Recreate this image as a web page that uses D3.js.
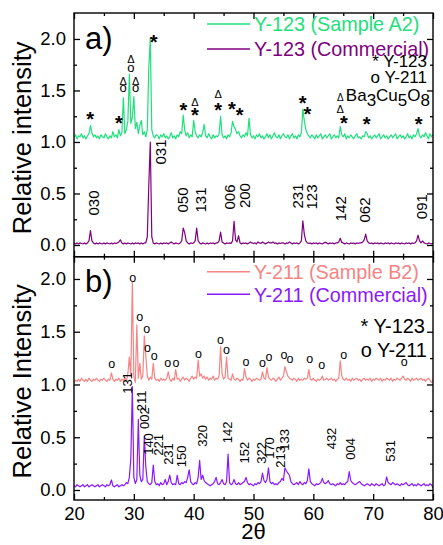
<!DOCTYPE html>
<html>
<head>
<meta charset="utf-8">
<script src="https://cdn.jsdelivr.net/npm/d3@7"></script>
<style>
  body { margin: 0; background: #fff; }
  svg { display: block; }
  text { font-family: "Liberation Sans", Arial, Helvetica, sans-serif; fill: #000; }
</style>
</head>
<body>
<svg id="chart" width="443" height="545"></svg>
<script>
// ---- scan grid (2θ from 20° to 80°, 0.25° step) ----
const scanStart = 20;
const scanStep = 0.25;

// ---- panel a: Y-123, one row per degree (4 points each) ----
const y123SampleA2 = [
  1.04,1.07,1.03,1.06, // 20
  1.05,1.08,1.04,1.06, // 21
  1.03,1.06,1.08,1.16, // 22
  1.09,1.05,1.07,1.04, // 23
  1.06,1.03,1.07,1.05, // 24
  1.04,1.08,1.05,1.03, // 25
  1.06,1.04,1.10,1.05, // 26
  1.07,1.04,1.12,1.06, // 27
  1.09,1.43,1.08,1.12, // 28
  1.20,1.66,1.18,1.24, // 29
  1.44,1.13,1.19,1.08, // 30
  1.16,1.21,1.07,1.10, // 31
  1.05,1.12,1.72,2.00, // 32
  1.12,1.06,1.04,1.07, // 33
  1.06,1.03,1.07,1.05, // 34
  1.08,1.04,1.06,1.03, // 35
  1.05,1.09,1.04,1.06, // 36
  1.03,1.07,1.05,1.10, // 37
  1.08,1.26,1.12,1.06, // 38
  1.09,1.04,1.07,1.05, // 39
  1.21,1.10,1.06,1.04, // 40
  1.07,1.05,1.09,1.17, // 41
  1.06,1.04,1.08,1.05, // 42
  1.03,1.07,1.04,1.06, // 43
  1.05,1.08,1.25,1.07, // 44
  1.04,1.06,1.03,1.07, // 45
  1.05,1.09,1.20,1.15, // 46
  1.12,1.08,1.10,1.06, // 47
  1.04,1.07,1.05,1.09, // 48
  1.06,1.23,1.07,1.04, // 49
  1.06,1.03,1.07,1.05, // 50
  1.08,1.04,1.06,1.03, // 51
  1.05,1.08,1.04,1.07, // 52
  1.03,1.06,1.09,1.05, // 53
  1.04,1.07,1.03,1.06, // 54
  1.08,1.05,1.04,1.07, // 55
  1.03,1.06,1.08,1.04, // 56
  1.06,1.03,1.07,1.05, // 57
  1.09,1.32,1.20,1.12, // 58
  1.08,1.06,1.04,1.07, // 59
  1.05,1.03,1.07,1.04, // 60
  1.06,1.08,1.03,1.05, // 61
  1.07,1.04,1.06,1.08, // 62
  1.03,1.05,1.07,1.04, // 63
  1.06,1.04,1.15,1.07, // 64
  1.05,1.08,1.03,1.06, // 65
  1.04,1.07,1.05,1.03, // 66
  1.06,1.08,1.04,1.05, // 67
  1.03,1.06,1.05,1.10, // 68
  1.08,1.04,1.06,1.03, // 69
  1.05,1.07,1.04,1.06, // 70
  1.08,1.03,1.05,1.07, // 71
  1.04,1.06,1.03,1.05, // 72
  1.07,1.04,1.06,1.08, // 73
  1.03,1.05,1.07,1.04, // 74
  1.06,1.03,1.05,1.08, // 75
  1.04,1.06,1.03,1.07, // 76
  1.05,1.08,1.13,1.06, // 77
  1.04,1.07,1.05,1.09, // 78
  1.06,1.03,1.08,1.05, // 79
  1.07
];

const y123Commercial = [
  0.02,0.01,0.02,0.01,   // 20
  0.02,0.015,0.01,0.02,  // 21
  0.01,0.02,0.04,0.14,   // 22
  0.04,0.02,0.01,0.02,   // 23
  0.01,0.02,0.015,0.01,  // 24
  0.02,0.01,0.02,0.015,  // 25
  0.01,0.02,0.01,0.02,   // 26
  0.015,0.02,0.03,0.05,  // 27
  0.02,0.01,0.02,0.01,   // 28
  0.02,0.015,0.01,0.02,  // 29
  0.01,0.02,0.015,0.02,  // 30
  0.01,0.02,0.01,0.02,   // 31
  0.02,0.08,0.58,1.00,   // 32
  0.08,0.02,0.01,0.02,   // 33
  0.015,0.01,0.02,0.01,  // 34
  0.02,0.015,0.02,0.01,  // 35
  0.02,0.03,0.02,0.01,   // 36
  0.02,0.015,0.01,0.02,  // 37
  0.04,0.165,0.12,0.04,  // 38
  0.02,0.01,0.02,0.015,  // 39
  0.02,0.04,0.165,0.04,  // 40
  0.02,0.01,0.02,0.015,  // 41
  0.01,0.02,0.01,0.02,   // 42
  0.015,0.02,0.01,0.02,  // 43
  0.02,0.04,0.125,0.03,  // 44
  0.02,0.01,0.02,0.015,  // 45
  0.02,0.015,0.04,0.23,  // 46
  0.05,0.03,0.09,0.02,   // 47
  0.01,0.02,0.015,0.02,  // 48
  0.01,0.02,0.03,0.02,   // 49
  0.015,0.02,0.01,0.03,  // 50
  0.02,0.015,0.03,0.02,  // 51
  0.01,0.02,0.03,0.02,   // 52
  0.02,0.03,0.015,0.02,  // 53
  0.01,0.02,0.015,0.02,  // 54
  0.02,0.01,0.02,0.015,  // 55
  0.03,0.02,0.01,0.02,   // 56
  0.015,0.02,0.01,0.02,  // 57
  0.04,0.235,0.10,0.04,  // 58
  0.02,0.015,0.02,0.01,  // 59
  0.02,0.015,0.02,0.01,  // 60
  0.02,0.015,0.01,0.02,  // 61
  0.025,0.02,0.01,0.02,  // 62
  0.015,0.02,0.01,0.02,  // 63
  0.02,0.03,0.065,0.025, // 64
  0.02,0.01,0.02,0.015,  // 65
  0.01,0.02,0.015,0.02,  // 66
  0.01,0.02,0.015,0.02,  // 67
  0.02,0.03,0.05,0.105,  // 68
  0.04,0.02,0.015,0.02,  // 69
  0.01,0.02,0.015,0.02,  // 70
  0.01,0.02,0.015,0.01,  // 71
  0.02,0.015,0.02,0.01,  // 72
  0.02,0.015,0.01,0.02,  // 73
  0.015,0.02,0.01,0.02,  // 74
  0.015,0.01,0.02,0.015, // 75
  0.02,0.01,0.02,0.015,  // 76
  0.02,0.04,0.095,0.04,  // 77
  0.02,0.04,0.02,0.015,  // 78
  0.01,0.02,0.015,0.01,  // 79
  0.02
];

// ---- panel b: Y-211 ----
const y211SampleB2 = [
  1.02,1.04,1.03,1.05, // 20
  1.03,1.06,1.04,1.03, // 21
  1.05,1.03,1.06,1.04, // 22
  1.03,1.05,1.04,1.06, // 23
  1.04,1.03,1.05,1.04, // 24
  1.06,1.04,1.03,1.05, // 25
  1.04,1.11,1.05,1.03, // 26
  1.05,1.04,1.06,1.03, // 27
  1.05,1.04,1.06,1.03, // 28
  1.10,1.26,1.08,1.97, // 29
  1.08,1.02,1.565,1.06,// 30
  1.20,1.05,1.08,1.46, // 31
  1.27,1.08,1.04,1.07, // 32
  1.05,1.20,1.06,1.04, // 33
  1.05,1.03,1.06,1.04, // 34
  1.05,1.04,1.06,1.12, // 35
  1.05,1.03,1.06,1.04, // 36
  1.14,1.05,1.06,1.03, // 37
  1.05,1.07,1.04,1.06, // 38
  1.05,1.03,1.06,1.08, // 39
  1.05,1.07,1.06,1.23, // 40
  1.08,1.10,1.06,1.08, // 41
  1.05,1.07,1.04,1.06, // 42
  1.05,1.08,1.04,1.06, // 43
  1.05,1.08,1.36,1.10, // 44
  1.05,1.07,1.26,1.06, // 45
  1.05,1.04,1.10,1.05, // 46
  1.04,1.06,1.05,1.03, // 47
  1.05,1.04,1.15,1.07, // 48
  1.04,1.06,1.05,1.03, // 49
  1.05,1.04,1.06,1.05, // 50
  1.04,1.05,1.12,1.06, // 51
  1.05,1.16,1.07,1.05, // 52
  1.04,1.06,1.05,1.03, // 53
  1.05,1.07,1.04,1.06, // 54
  1.08,1.17,1.12,1.08, // 55
  1.06,1.05,1.04,1.06, // 56
  1.05,1.03,1.06,1.04, // 57
  1.05,1.04,1.06,1.05, // 58
  1.06,1.14,1.05,1.04, // 59
  1.06,1.04,1.03,1.05, // 60
  1.04,1.05,1.08,1.04, // 61
  1.05,1.06,1.04,1.05, // 62
  1.06,1.04,1.05,1.03, // 63
  1.05,1.06,1.225,1.08,// 64
  1.05,1.04,1.06,1.04, // 65
  1.05,1.03,1.06,1.04, // 66
  1.05,1.06,1.04,1.05, // 67
  1.03,1.05,1.06,1.04, // 68
  1.05,1.04,1.06,1.03, // 69
  1.05,1.04,1.06,1.05, // 70
  1.04,1.06,1.03,1.05, // 71
  1.04,1.06,1.05,1.04, // 72
  1.06,1.03,1.05,1.04, // 73
  1.06,1.05,1.04,1.06, // 74
  1.08,1.05,1.04,1.06, // 75
  1.05,1.03,1.06,1.04, // 76
  1.05,1.06,1.04,1.05, // 77
  1.06,1.04,1.05,1.03, // 78
  1.05,1.06,1.04,1.02, // 79
  1.04
];

const y211Commercial = [
  0.04,0.03,0.05,0.04,  // 20
  0.03,0.04,0.05,0.03,  // 21
  0.04,0.05,0.03,0.04,  // 22
  0.05,0.04,0.03,0.04,  // 23
  0.05,0.03,0.04,0.05,  // 24
  0.04,0.03,0.05,0.04,  // 25
  0.05,0.095,0.04,0.03, // 26
  0.04,0.05,0.03,0.04,  // 27
  0.05,0.04,0.05,0.07,  // 28
  0.06,0.12,0.30,0.98,  // 29
  0.12,0.06,0.10,0.67,  // 30
  0.14,0.08,0.10,0.51,  // 31
  0.22,0.08,0.06,0.05,  // 32
  0.07,0.237,0.08,0.05, // 33
  0.06,0.04,0.07,0.05,  // 34
  0.06,0.10,0.05,0.08,  // 35
  0.14,0.07,0.05,0.06,  // 36
  0.05,0.14,0.06,0.05,  // 37
  0.07,0.06,0.08,0.07,  // 38
  0.12,0.19,0.08,0.06,  // 39
  0.05,0.07,0.06,0.12,  // 40
  0.28,0.10,0.14,0.09,  // 41
  0.07,0.06,0.05,0.04,  // 42
  0.05,0.06,0.08,0.12,  // 43
  0.06,0.05,0.07,0.10,  // 44
  0.06,0.05,0.08,0.34,  // 45
  0.07,0.05,0.06,0.10,  // 46
  0.06,0.05,0.07,0.05,  // 47
  0.06,0.07,0.08,0.12,  // 48
  0.07,0.05,0.06,0.05,  // 49
  0.04,0.06,0.05,0.07,  // 50
  0.06,0.08,0.16,0.09,  // 51
  0.07,0.10,0.21,0.08,  // 52
  0.06,0.07,0.05,0.06,  // 53
  0.05,0.07,0.08,0.11,  // 54
  0.09,0.21,0.18,0.16,  // 55
  0.14,0.08,0.06,0.05,  // 56
  0.06,0.07,0.05,0.08,  // 57
  0.06,0.05,0.07,0.06,  // 58
  0.09,0.20,0.08,0.06,  // 59
  0.05,0.04,0.06,0.05,  // 60
  0.06,0.07,0.11,0.07,  // 61
  0.06,0.07,0.09,0.06,  // 62
  0.05,0.06,0.05,0.04,  // 63
  0.06,0.05,0.07,0.05,  // 64
  0.06,0.05,0.07,0.08,  // 65
  0.175,0.09,0.07,0.06, // 66
  0.05,0.06,0.07,0.08,  // 67
  0.06,0.05,0.04,0.05,  // 68
  0.06,0.05,0.04,0.06,  // 69
  0.05,0.04,0.06,0.05,  // 70
  0.04,0.05,0.06,0.04,  // 71
  0.05,0.125,0.07,0.06, // 72
  0.05,0.07,0.06,0.05,  // 73
  0.06,0.05,0.04,0.06,  // 74
  0.05,0.06,0.07,0.05,  // 75
  0.04,0.05,0.06,0.04,  // 76
  0.05,0.04,0.06,0.05,  // 77
  0.04,0.05,0.06,0.04,  // 78
  0.05,0.04,0.06,0.05,  // 79
  0.02
];

// ---- phase markers [2θ, intensity] ----
const topStars = [[22.7,1.262],[27.5,1.23],[33.3,2.017],[38.3,1.35],[40.2,1.30],[44.1,1.35],
  [46.4,1.36],[47.7,1.30],[58.2,1.417],[59.0,1.31],[65.1,1.23],[68.9,1.22],[77.6,1.22]];
const topCircles = [[28.2,1.515],[29.5,1.716],[30.3,1.515]];
const topDeltas = [[28.2,1.595],[29.5,1.805],[30.3,1.595],[40.2,1.39],[44.1,1.47],[64.5,1.315]];
const bottomCircles = [[26.3,1.191],[29.8,2.0],[31.0,1.637],[32.15,1.523],[32.3,1.343],[33.4,1.264],
  [35.65,1.20],[37.05,1.20],[40.8,1.286],[44.5,1.412],[45.5,1.318],[48.75,1.207],[51.5,1.20],
  [52.6,1.258],[55.1,1.273],[56.1,1.239],[59.4,1.239],[61.4,1.178],[65.1,1.27],[75.2,1.21]];

// ---- reflection indices [hkl, 2θ, label centre] ----
const topHkl = [["030",23.2,0.408],["031",34.55,0.903],["050",38.17,0.437],["131",41.18,0.437],
  ["006",46.07,0.466],["200",48.46,0.48],["231",57.32,0.476],["123",59.73,0.466],
  ["142",64.63,0.352],["062",68.64,0.34],["091",78.11,0.372]];
const bottomHkl = [["131",28.98,1.014],["211",31.2,0.844],["002",31.7,0.682],["140",32.42,0.436],
  ["221",34.09,0.427],["231",35.76,0.341],["150",38.0,0.318],["320",41.51,0.512],
  ["142",45.62,0.545],["152",48.41,0.355],["322",51.37,0.351],["170",52.64,0.398],
  ["213",54.55,0.313],["133",55.1,0.474],["432",63.07,0.488],["004",66.25,0.389],["531",72.93,0.37]];

// ---- axis ticks ----
const xMajor = [20, 30, 40, 50, 60, 70, 80];
const xMinor = [25, 35, 45, 55, 65, 75];
const yMajor = [0, 0.5, 1.0, 1.5, 2.0];
const yMinor = [0.25, 0.75, 1.25, 1.75];

// ---- colours ----
const cGreen = "#1ee07c", cPurple = "#800080", cPink = "#f78383", cViolet = "#8a18ff";

// ---- layout ----
const L = 74, R = 433, T = 13, MID = 256.7, B = 500;
const svg = d3.select("#chart");

const x = d3.scaleLinear().domain([20, 80]).range([L, R]);
const yTop = d3.scaleLinear().domain([-0.1136, 2.252]).range([MID, T]);
const yBot = d3.scaleLinear().domain([-0.0948, 2.211]).range([B, MID]);

const asPoints = arr => arr.map((v, i) => [scanStart + i * scanStep, v]);

svg.append("defs").append("clipPath").attr("id", "clipTop")
  .append("rect").attr("x", L).attr("y", T).attr("width", R - L).attr("height", MID - T);
svg.select("defs").append("clipPath").attr("id", "clipBot")
  .append("rect").attr("x", L).attr("y", MID).attr("width", R - L).attr("height", B - MID);

function trace(y, data, color, clip) {
  const line = d3.line().x(d => x(d[0])).y(d => y(d[1]));
  svg.append("path").datum(asPoints(data))
    .attr("clip-path", `url(#${clip})`)
    .attr("fill", "none").attr("stroke", color).attr("stroke-width", 1.2)
    .attr("stroke-linejoin", "round").attr("d", line);
}

trace(yTop, y123Commercial, cPurple, "clipTop");
trace(yTop, y123SampleA2, cGreen, "clipTop");
trace(yBot, y211SampleB2, cPink, "clipBot");
trace(yBot, y211Commercial, cViolet, "clipBot");

// ---- axes: ticks point inward on all four sides ----
function frame(y, top, bottom, showX) {
  const g = svg.append("g");
  const addAxis = (axis, tx, ty, vals, size, labels) => {
    const a = g.append("g").attr("transform", `translate(${tx},${ty})`)
      .call(axis.tickValues(vals).tickSize(size).tickSizeOuter(0)
        .tickFormat(labels ? labels : () => ""));
    a.select(".domain").remove();
    a.selectAll("line").attr("stroke", "#000").attr("stroke-width", 1.3);
    return a;
  };
  addAxis(d3.axisTop(x), 0, top, xMajor, -6);
  addAxis(d3.axisTop(x), 0, top, xMinor, -3);
  const xa = addAxis(d3.axisBottom(x).tickPadding(7), 0, bottom, xMajor, -6, showX ? d3.format("d") : null);
  addAxis(d3.axisBottom(x), 0, bottom, xMinor, -3);
  const ya = addAxis(d3.axisLeft(y).tickPadding(8), L, 0, yMajor, -6, d3.format(".1f"));
  addAxis(d3.axisLeft(y), L, 0, yMinor, -3);
  addAxis(d3.axisRight(y), R, 0, yMajor, -6);
  addAxis(d3.axisRight(y), R, 0, yMinor, -3);
  ya.selectAll("text").attr("font-size", 18.5).attr("font-family", "Liberation Sans, Arial, sans-serif").attr("fill", "#000");
  xa.selectAll("text").attr("font-size", 18.5).attr("font-family", "Liberation Sans, Arial, sans-serif").attr("fill", "#000");
  g.append("rect").attr("x", L).attr("y", top).attr("width", R - L).attr("height", bottom - top)
    .attr("fill", "none").attr("stroke", "#000").attr("stroke-width", 1.4);
}
frame(yTop, T, MID, false);
frame(yBot, MID, B, true);

// ---- axis titles ----
svg.append("text").attr("transform", `translate(31,${(T + MID) / 2 + 3}) rotate(-90)`)
  .attr("text-anchor", "middle").attr("font-size", 25.5).text("Relative intensity");
svg.append("text").attr("transform", `translate(31,${(MID + B) / 2 + 3}) rotate(-90)`)
  .attr("text-anchor", "middle").attr("font-size", 25.5).text("Relative Intensity");
svg.append("text").attr("x", x(50)).attr("y", 539).attr("text-anchor", "middle")
  .attr("font-size", 22).text("2θ");

// ---- panel tags ----
svg.append("text").attr("x", 85).attr("y", 49).attr("font-size", 31).text("a)");
svg.append("text").attr("x", 85).attr("y", 292).attr("font-size", 31).text("b)");

// ---- phase symbols ----
function symbols(y, data, sym, fs, lift, weight) {
  svg.append("g").selectAll("text").data(data).join("text")
    .attr("x", d => x(d[0])).attr("y", d => y(d[1]) + lift * fs)
    .attr("text-anchor", "middle").attr("font-size", fs)
    .attr("font-weight", weight || "normal").text(sym);
}
symbols(yTop, topStars, "*", 20, 0.57, "bold");
symbols(yTop, topCircles, "o", 13, 0.27);
symbols(yTop, topDeltas, "Δ", 11, 0.36);
symbols(yBot, bottomCircles, "o", 12.5, 0.27);

// ---- reflection labels ----
function hkl(y, data, fs) {
  svg.append("g").selectAll("text").data(data).join("text")
    .attr("transform", d => `translate(${x(d[1])},${y(d[2])}) rotate(-90)`)
    .attr("text-anchor", "middle").attr("dy", "0.36em").attr("font-size", fs).text(d => d[0]);
}
hkl(yTop, topHkl, 15);
hkl(yBot, bottomHkl, 13);

// ---- legends ----
function legendEntry(ly, color, label) {
  svg.append("line").attr("x1", 207).attr("x2", 250).attr("y1", ly).attr("y2", ly)
    .attr("stroke", color).attr("stroke-width", 1.5);
  svg.append("text").attr("x", 254).attr("y", ly + 7.3).attr("font-size", 19.8)
    .style("fill", color).text(label);
}
legendEntry(24, cGreen, "Y-123 (Sample A2)");
legendEntry(49, cPurple, "Y-123 (Commercial)");
legendEntry(271.7, cPink, "Y-211 (Sample B2)");
legendEntry(294.3, cViolet, "Y-211 (Commercial)");

const keyA = svg.append("g").attr("text-anchor", "end").attr("font-size", 17);
keyA.append("text").attr("x", 427).attr("y", 67).text("* Y-123");
keyA.append("text").attr("x", 427).attr("y", 83).text("o Y-211");
const ba = keyA.append("text").attr("x", 430).attr("y", 101);
ba.append("tspan").attr("font-size", 10).text("Δ ");
ba.append("tspan").text("Ba");
ba.append("tspan").attr("dy", 5).text("3");
ba.append("tspan").attr("dy", -5).text("Cu");
ba.append("tspan").attr("dy", 5).text("5");
ba.append("tspan").attr("dy", -5).text("O");
ba.append("tspan").attr("dy", 5).text("8");

const keyB = svg.append("g").attr("text-anchor", "end").attr("font-size", 20);
keyB.append("text").attr("x", 425).attr("y", 333).text("* Y-123");
keyB.append("text").attr("x", 427).attr("y", 357).text("o Y-211");
</script>
</body>
</html>
